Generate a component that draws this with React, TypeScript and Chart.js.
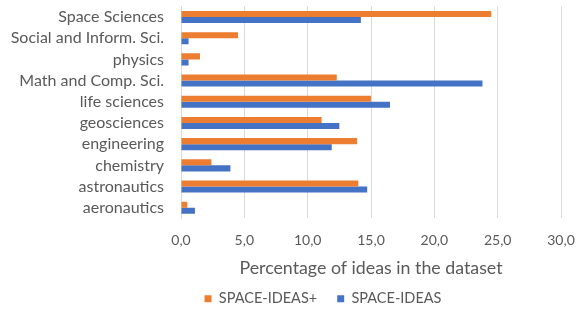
import React, { useEffect, useRef } from "react";
import { Chart, registerables } from "chart.js";

Chart.register(...registerables);

const categories = [
  "Space Sciences",
  "Social and Inform. Sci.",
  "physics",
  "Math and Comp. Sci.",
  "life sciences",
  "geosciences",
  "engineering",
  "chemistry",
  "astronautics",
  "aeronautics",
];
const spaceIdeasPlus = [24.5, 4.5, 1.5, 12.3, 15.0, 11.1, 13.9, 2.4, 14.0, 0.5];
const spaceIdeas = [14.2, 0.6, 0.6, 23.8, 16.5, 12.5, 11.9, 3.9, 14.7, 1.1];
const xTicks = [0, 5, 10, 15, 20, 25, 30];

const FONT = "Lato, sans-serif";
const TEXT = "#595959";

const legendShift = {
  id: "legendShift",
  afterLayout(chart: any) {
    if (chart.legend) {
      chart.legend.left += 31;
      chart.legend.right += 31;
    }
  },
};

export default function App() {
  const ref = useRef<HTMLCanvasElement | null>(null);
  useEffect(() => {
    if (!ref.current) return;
    const chart = new Chart(ref.current, {
      type: "bar",
      data: {
        labels: categories,
        datasets: [
          {
            label: "SPACE-IDEAS+",
            data: spaceIdeasPlus,
            backgroundColor: "#ED7D31",
            barPercentage: 1,
            categoryPercentage: 0.57,
          },
          {
            label: "SPACE-IDEAS",
            data: spaceIdeas,
            backgroundColor: "#4472C4",
            barPercentage: 1,
            categoryPercentage: 0.57,
          },
        ],
      },
      plugins: [legendShift],
      options: {
        indexAxis: "y",
        animation: false,
        responsive: false,
        layout: { padding: { top: 0, right: 0, left: 0, bottom: -7 } },
        plugins: {
          legend: {
            position: "bottom",
            labels: {
              boxWidth: 7,
              boxHeight: 7,
              color: TEXT,
              font: { family: FONT, size: 14.5 },
              padding: 20,
            },
          },
          tooltip: { enabled: false },
        },
        scales: {
          x: {
            min: 0,
            max: 30,
            afterBuildTicks: (s: any) => {
              s.ticks = xTicks.map((v) => ({ value: v }));
            },
            afterFit: (s: any) => {
              s.paddingRight = 23;
            },
            ticks: {
              color: TEXT,
              font: { family: FONT, size: 14 },
              padding: 14,
              callback: (v: any) => Number(v).toFixed(1).replace(".", ","),
            },
            grid: { color: "#D9D9D9", lineWidth: 1, drawTicks: false },
            border: { display: false },
            title: {
              display: true,
              text: "Percentage of ideas in the dataset",
              color: TEXT,
              font: { family: FONT, size: 17.8 },
              padding: { top: -6, bottom: -7 },
            },
          },
          y: {
            afterFit: (s: any) => {
              s.width = 181;
            },
            ticks: {
              color: TEXT,
              font: { family: FONT, size: 16, lineHeight: 0.8 },
              padding: 0,
              autoSkip: false,
            },
            grid: {
              display: true,
              drawOnChartArea: false,
              drawTicks: true,
              tickLength: 17,
              tickColor: "rgba(0,0,0,0)",
            },
            border: { display: true, color: "#D9D9D9" },
          },
        },
      },
    });
    return () => chart.destroy();
  }, []);
  return (
    <div style={{ position: "fixed", left: 0, top: 0, width: 584, height: 309, background: "#fff" }}>
      <canvas ref={ref} width={584} height={309} />
    </div>
  );
}
